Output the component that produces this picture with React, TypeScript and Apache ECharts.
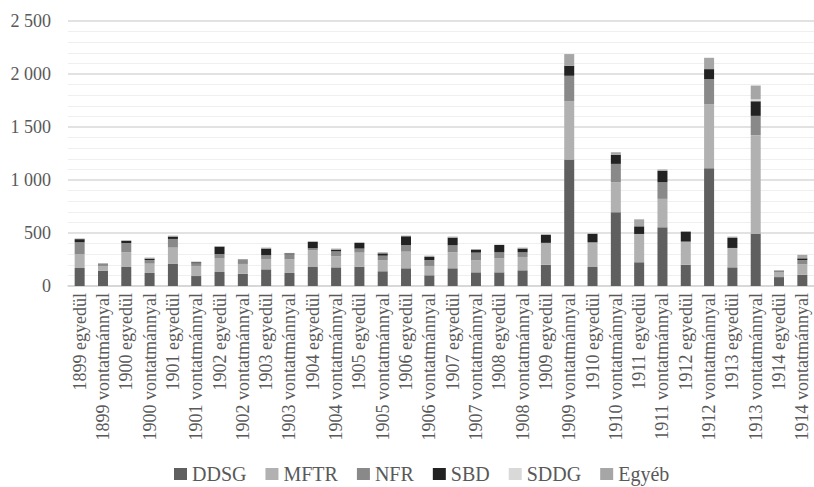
import React, { useEffect, useRef } from "react";
import * as echarts from "echarts";

// Years and the two train types shown for each year
const years = [
  1899, 1900, 1901, 1902, 1903, 1904, 1905, 1906,
  1907, 1908, 1909, 1910, 1911, 1912, 1913, 1914,
];
const categories: string[] = [];
years.forEach((y) => {
  categories.push(`${y} egyedül`);
  categories.push(`${y} vontatmánnyal`);
});

const ddsg = [170, 145, 179, 123, 208, 94, 132, 116, 157, 123, 179, 176, 183, 139, 167, 101, 167, 129, 129, 148, 201, 1193, 179, 696, 224, 554, 201, 1111, 176, 494, 84, 105];
const mftr = [132, 44, 139, 88, 154, 95, 132, 92, 98, 129, 158, 104, 132, 103, 157, 88, 151, 113, 132, 126, 200, 551, 230, 283, 267, 268, 218, 605, 183, 929, 48, 100];
const nfr = [110, 22, 88, 34, 82, 25, 38, 37, 35, 47, 19, 47, 38, 44, 63, 56, 66, 73, 57, 44, 6, 239, 3, 173, 0, 157, 0, 236, 0, 182, 14, 40];
const sbd = [30, 0, 19, 13, 22, 10, 69, 0, 63, 9, 60, 16, 53, 22, 82, 29, 72, 28, 69, 35, 74, 95, 80, 85, 72, 107, 91, 94, 94, 138, 0, 16];
const sddg = [0, 0, 0, 0, 0, 0, 0, 0, 0, 0, 0, 0, 0, 0, 0, 0, 0, 0, 0, 0, 0, 0, 0, 0, 0, 0, 0, 0, 0, 19, 0, 0];
const egyeb = [6, 6, 6, 10, 9, 6, 4, 10, 9, 4, 6, 10, 6, 10, 6, 12, 10, 6, 3, 9, 7, 110, 3, 25, 66, 13, 9, 107, 13, 129, 4, 33];

const seriesDefs = [
  { name: "DDSG", data: ddsg, color: "#5f5f5f" },
  { name: "MFTR", data: mftr, color: "#b1b1b1" },
  { name: "NFR", data: nfr, color: "#898989" },
  { name: "SBD", data: sbd, color: "#222222" },
  { name: "SDDG", data: sddg, color: "#d9d9d9" },
  { name: "Egyéb", data: egyeb, color: "#a6a6a6" },
];

const FONT = "Liberation Serif";
const TEXT = "#595959";

const fmt = (v: number) =>
  String(v).replace(/\B(?=(\d{3})+(?!\d))/g, " ");

export default function App() {
  const ref = useRef<HTMLDivElement>(null);

  useEffect(() => {
    if (!ref.current) return;
    const chart = echarts.init(ref.current, undefined, { renderer: "svg" });
    chart.setOption({
      animation: false,
      backgroundColor: "#ffffff",
      textStyle: { fontFamily: FONT },
      grid: { left: 68, top: 21, width: 752, height: 265 },
      legend: {
        left: 174,
        top: 464,
        padding: 0,
        icon: "rect",
        itemWidth: 13,
        itemHeight: 12,
        itemGap: 19,
        formatter: "{t|{name}}",
        textStyle: {
          fontFamily: FONT,
          fontSize: 20,
          color: TEXT,
          rich: {
            t: { fontFamily: FONT, fontSize: 20, color: TEXT },
          },
        },
        data: seriesDefs.map((s) => s.name),
      },
      xAxis: {
        type: "category",
        data: categories,
        axisLine: { show: true, lineStyle: { color: "#d4d4d4", width: 1.5 } },
        axisTick: { show: false },
        axisLabel: {
          interval: 0,
          rotate: 90,
          margin: 7,
          fontFamily: FONT,
          fontSize: 18,
          color: TEXT,
        },
      },
      yAxis: {
        type: "value",
        min: 0,
        max: 2500,
        interval: 500,
        axisLine: { show: false },
        axisTick: { show: false },
        axisLabel: {
          margin: 17,
          fontFamily: FONT,
          fontSize: 18,
          color: TEXT,
          formatter: (v: number) => fmt(v),
        },
        splitLine: { lineStyle: { color: "#d9d9d9", width: 1.5 } },
        minorTick: { show: false, splitNumber: 5 },
        minorSplitLine: { show: true, lineStyle: { color: "#efefef", width: 1 } },
      },
      series: seriesDefs.map((s) => ({
        name: s.name,
        type: "bar",
        stack: "total",
        barWidth: 10,
        data: s.data,
        itemStyle: { color: s.color },
      })),
    });
    return () => chart.dispose();
  }, []);

  return (
    <div
      ref={ref}
      style={{ position: "absolute", left: 0, top: 0, width: 814, height: 487 }}
    />
  );
}
